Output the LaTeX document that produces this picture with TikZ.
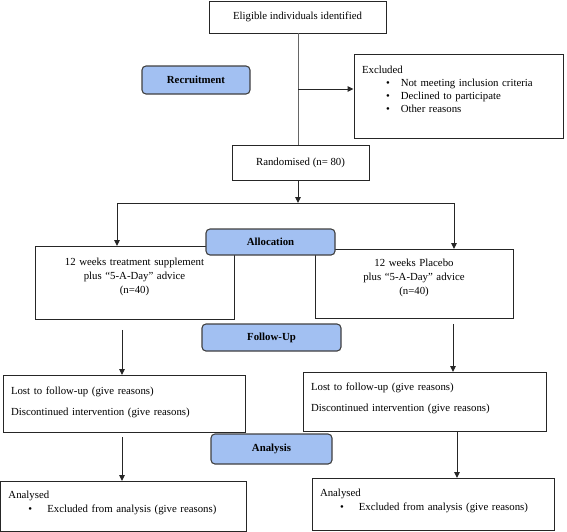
\documentclass[tikz,border=0pt]{standalone}
\usepackage{fontspec}
\setmainfont{Liberation Serif}
\usetikzlibrary{arrows.meta}
\definecolor{phaseblue}{RGB}{162,192,242}
\newcommand{\bul}[3]{\hspace*{#1}\textbullet\hspace{#2}#3}

\begin{document}
\begin{tikzpicture}[
    x=1pt, y=-1pt,
    font=\fontsize{10.8}{14}\selectfont,
    linet/.style={line width=1pt, draw=black!85,
      -{Triangle[length=6pt,width=5.5pt]}},
    spine/.style={line width=1pt, draw=black!60},
    boite/.style={rectangle, draw=black!85, line width=0.9pt,
      inner sep=0pt, inner xsep=8pt},
    phase/.style={rectangle, rounded corners=4pt, fill=phaseblue,
      draw=black!75, line width=1.1pt, inner sep=0pt,
      font=\fontsize{10.8}{14}\selectfont\bfseries}
  ]
  \useasboundingbox (0,0) rectangle (567,531);
  \path (297.5,17) node(elig) [boite, minimum width=177pt, minimum height=32pt] {
    Eligible individuals identified}
  (458.5,54) node(excl) [boite, anchor=north, text width=193pt, align=left,
    text height=19.5pt, text depth=64.5pt, font=\fontsize{10.8}{12.7}\selectfont] {
    Excluded\\
    \bul{24pt}{11pt}{Not meeting inclusion criteria}\\
    \bul{24pt}{11pt}{Declined to participate}\\
    \bul{24pt}{11pt}{Other reasons}
  }
  (300.5,162.5) node(rand) [boite, minimum width=137pt, minimum height=35pt] {
    Randomised (n= 80)}

  (134.5,246) node(treat) [boite, anchor=north, text width=183pt, align=center,
    text height=19.5pt, text depth=53.5pt] {
    12 weeks treatment supplement\\
    plus ``5-A-Day'' advice\\
    (n=40)
  }
  (414,249) node(plac) [boite, anchor=north, text width=182pt, align=center,
    text height=17.5pt, text depth=51.5pt] {
    12 weeks Placebo\\
    plus ``5-A-Day'' advice\\
    (n=40)
  }

  (124,375) node(lostL) [boite, anchor=north, text width=226pt, align=left,
    text height=19.5pt, text depth=37.5pt] {
    Lost to follow-up (give reasons)\\[7pt]
    Discontinued intervention (give reasons)
  }
  (424.5,372) node(lostR) [boite, anchor=north, text width=227pt, align=left,
    text height=18.5pt, text depth=40.5pt] {
    Lost to follow-up (give reasons)\\[7pt]
    Discontinued intervention (give reasons)
  }

  (123.5,481) node(anaL) [boite, anchor=north, text width=230pt, align=left,
    text height=17.5pt, text depth=32pt] {
    Analysed\\
    \bul{20pt}{15pt}{Excluded from analysis (give reasons)}
  }
  (433,478) node(anaR) [boite, anchor=north, text width=226pt, align=left,
    text height=18.5pt, text depth=33.5pt] {
    Analysed\\
    \bul{20pt}{15pt}{Excluded from analysis (give reasons)}
  };

  \path (196,80) node(recr) [phase, minimum width=108pt, minimum height=28pt] {Recruitment}
  (270.5,242) node(alloc) [phase, minimum width=129pt, minimum height=26pt] {Allocation}
  (271.5,337.5) node(follow) [phase, minimum width=139pt, minimum height=27pt] {Follow-Up}
  (271.5,449) node(anal) [phase, minimum width=121pt, minimum height=30pt] {Analysis};

  \coordinate (branch) at (298,89);
  \coordinate (split) at (298,203);
  \coordinate (splitL) at (117,203);
  \coordinate (splitR) at (454,203);
  \coordinate (colL) at (122,0);
  \coordinate (colR) at (453,0);
  \coordinate (colRb) at (457,0);

  \draw[spine] (elig.south -| split) -- (rand.north -| split);
  \draw[linet] (branch) -- (branch -| excl.west);
  \draw[linet] (rand.south -| split) -- (split);
  \draw[linet] (split) -- (splitL) -- (splitL |- treat.north);
  \draw[linet] (split) -- (splitR) -- (splitR |- plac.north);
  \draw[linet, shorten <=10pt] (treat.south -| colL) -- (lostL.north -| colL);
  \draw[linet, shorten <=5pt] (plac.south -| colR) -- (lostR.north -| colR);
  \draw[linet, shorten <=4pt] (lostL.south -| colL) -- (anaL.north -| colL);
  \draw[linet] (lostR.south -| colRb) -- (anaR.north -| colRb);
\end{tikzpicture}
\end{document}
